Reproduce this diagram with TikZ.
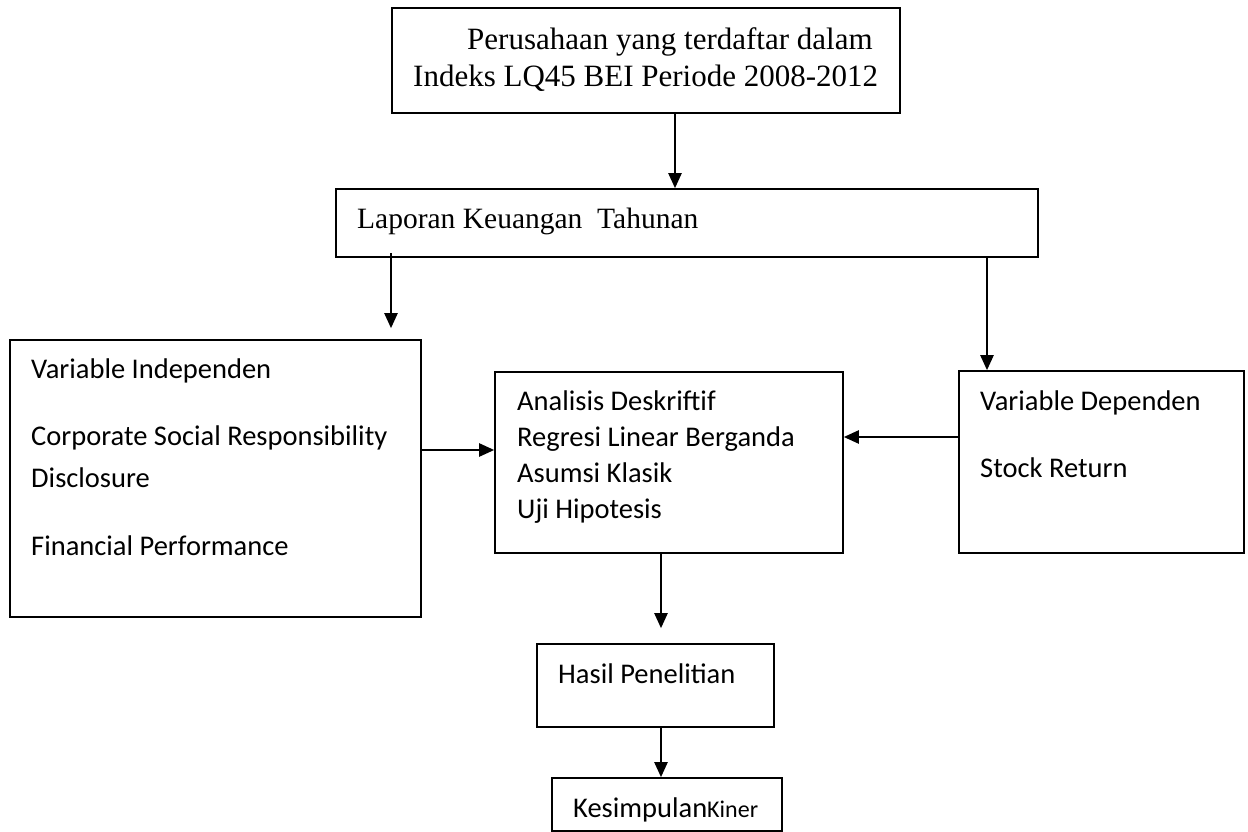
\documentclass[tikz,border=0pt]{standalone}
\usepackage{fontspec}
\setmainfont{Carlito}
\newfontfamily\timesfont{Liberation Serif}
\usetikzlibrary{arrows.meta}

\tikzset{
  box/.style={draw, line width=1.6pt, inner sep=0pt},
  arr/.style={-{Triangle[width=13pt,length=15pt]}, line width=2.3pt},
  txt/.style={anchor=base west, inner sep=0pt, font=\fontsize{28.5}{34}\selectfont},
  ttxt/.style={anchor=base west, inner sep=0pt, font=\timesfont\fontsize{31}{36}\selectfont}
}

\begin{document}
\begin{tikzpicture}[x=1pt, y=-1pt]
        \useasboundingbox (0,0) rectangle (1248,832);
        % Boxes
        \node[box, minimum width=508pt, minimum height=105pt] (top) at (646,60.5) {};
        \node[box, minimum width=702pt, minimum height=68pt] (lap) at (687,223) {};
        \node[box, minimum width=411pt, minimum height=277pt] (indep) at (215.5,478.5) {};
        \node[box, minimum width=348pt, minimum height=181pt] (anal) at (669,462.5) {};
        \node[box, minimum width=285pt, minimum height=182pt] (dep) at (1101.5,462) {};
        \node[box, minimum width=237pt, minimum height=83pt] (hasil) at (655.5,685.5) {};
        \node[box, minimum width=230pt, minimum height=53pt] (kesim) at (667,804.5) {};

        % Texts
        \node[ttxt] (top1) at (467,50) {Perusahaan yang terdaftar dalam};
        \node[ttxt] (top2) at (413,87) {Indeks LQ45 BEI Periode 2008-2012};
        \node[ttxt, font=\timesfont\fontsize{29.5}{34}\selectfont] (lap1) at (357,228) {Laporan Keuangan\ \ Tahunan};

        \node[txt] (indep1) at (31,378) {Variable Independen};
        \node[txt] (indep2) at (31,445) {Corporate Social Responsibility};
        \node[txt] (indep3) at (31,487) {Disclosure};
        \node[txt] (indep4) at (31,555) {Financial Performance};

        \node[txt] (anal1) at (517,410) {Analisis Deskriftif};
        \node[txt] (anal2) at (517,446) {Regresi Linear Berganda};
        \node[txt] (anal3) at (517,482) {Asumsi Klasik};
        \node[txt] (anal4) at (517,518) {Uji Hipotesis};

        \node[txt] (dep1) at (980,410) {Variable Dependen};
        \node[txt] (dep2) at (980,477) {Stock Return};

        \node[txt] (hasil1) at (558,683) {Hasil Penelitian};
        \node[txt] (kesim1) at (573,817) {Kesimpulan{\fontsize{24}{28}\selectfont Kiner}};

        % Arrows
        \coordinate (topS) at ([xshift=29pt]top.south);
        \coordinate (lapL) at ([xshift=-296pt, yshift=5pt]lap.south);
        \coordinate (lapR) at ([xshift=300pt]lap.south);
        \coordinate (indepE) at ([yshift=28.5pt]indep.east);
        \coordinate (depW) at ([yshift=25pt]dep.west);
        \coordinate (analS) at ([xshift=-8pt]anal.south);
        \coordinate (hasilS) at ([xshift=5.5pt]hasil.south);
        \draw[arr] (topS) -- (topS |- lap.north);
        \draw[arr, shorten >=11pt] (lapL) -- (lapL |- indep.north);
        \draw[arr] (lapR) -- (lapR |- dep.north);
        \draw[arr] (indepE) -- (indepE -| anal.west);
        \draw[arr] (depW) -- (depW -| anal.east);
        \draw[arr, shorten >=15pt] (analS) -- (analS |- hasil.north);
        \draw[arr] (hasilS) -- (hasilS |- kesim.north);
\end{tikzpicture}
\end{document}
